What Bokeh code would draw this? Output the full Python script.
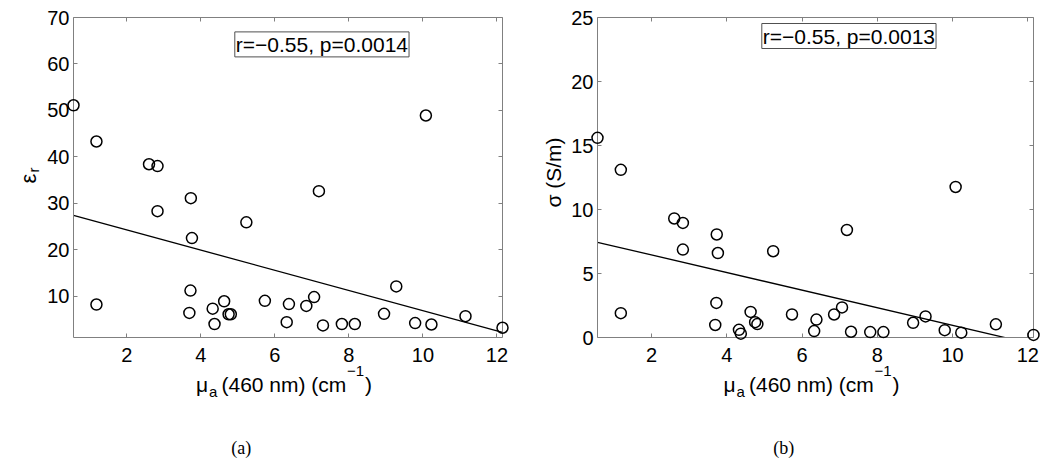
import numpy as np
from bokeh.plotting import figure
from bokeh.models import Label, LinearAxis, Range1d, FixedTicker
from bokeh.core.properties import value
from bokeh.layouts import row
from bokeh.embed import file_html
from bokeh.resources import INLINE

# ---------------- data ----------------
mu_a = [0.56, 1.18, 1.18, 2.60, 2.83, 2.83, 3.73, 3.76, 3.72, 3.69, 4.32,
        4.37, 4.63, 4.75, 4.81, 5.23, 5.73, 6.32, 6.38, 6.85, 7.06, 7.19,
        7.30, 7.81, 8.16, 8.95, 9.28, 9.79, 10.08, 10.23, 11.15, 12.15]
eps_r = [51.1, 43.3, 8.2, 38.4, 38.0, 28.3, 31.1, 22.5, 11.2, 6.4, 7.3,
         4.0, 8.9, 6.1, 6.1, 25.9, 9.0, 4.4, 8.3, 7.9, 9.8, 32.6,
         3.7, 4.0, 4.0, 6.2, 12.1, 4.2, 48.9, 3.9, 5.7, 3.2]
sigma = [15.6, 13.1, 1.9, 9.3, 8.95, 6.87, 8.05, 6.6, 2.7, 0.98, 0.6,
         0.3, 2.0, 1.2, 1.05, 6.74, 1.8, 0.5, 1.4, 1.8, 2.35, 8.4,
         0.45, 0.42, 0.42, 1.15, 1.65, 0.57, 11.76, 0.38, 1.03, 0.2]

# regression lines (values at the ends of the x range)
fit_x = [min(mu_a), max(mu_a)]
eps_fit = [27.4, 2.2]
sigma_fit = [7.44, -0.53]

x_ticks = [2, 4, 6, 8, 10, 12]
eps_ticks = [10, 20, 30, 40, 50, 60, 70]
sigma_ticks = [0, 5, 10, 15, 20, 25]
eps_range = (1.1, 70)
sigma_range = (0, 25)

stats_a = "r=\u22120.55, p=0.0014"
stats_b = "r=\u22120.55, p=0.0013"
captions = ["(a)", "(b)"]

# ---------------- styling ----------------
AX = "#808080"
FONT = "Liberation Sans"
H = 458


def style_axis(ax, ticks, show):
    ax.ticker = FixedTicker(ticks=ticks)
    ax.axis_line_color = AX
    ax.axis_line_width = 1
    ax.major_tick_line_color = AX
    ax.major_tick_in = 4
    ax.major_tick_out = 0
    ax.minor_tick_line_color = None
    ax.major_label_text_font = FONT
    if show:
        ax.major_label_text_color = "black"
        ax.major_label_text_font_size = "20px"
        ax.major_label_standoff = 10
    else:
        ax.major_label_text_color = None
        ax.major_label_text_font_size = "1px"
        ax.major_label_standoff = 0


def add_text(p, dx, dy, text, size, font=FONT, angle=0.0, align="left"):
    """Text placed dx px right / dy px up from the frame's bottom-left corner."""
    r = p.text(x=[p.x_range.start], y=[p.y_range.start], text=[text],
               x_offset=dx, y_offset=-dy, angle=angle,
               text_font=value(font), text_font_size=value(size),
               text_align=align, text_baseline="alphabetic", text_color="black")
    r.level = "overlay"
    return r


def panel(width, yvals, yfit, yrange, yticks, borders, frame_w, stats, stats_pos,
          caption, cap_x):
    bl, br, bt, bb = borders
    p = figure(width=width, height=H, output_backend="svg", toolbar_location=None,
               x_range=Range1d(min(mu_a), max(mu_a)), y_range=Range1d(*yrange),
               min_border_left=bl, min_border_right=br, min_border_top=bt,
               min_border_bottom=bb)
    p.grid.visible = False
    p.outline_line_color = None
    p.background_fill_color = "white"
    p.border_fill_color = "white"
    style_axis(p.xaxis[0], x_ticks, True)
    style_axis(p.yaxis[0], yticks, True)
    p.yaxis[0].major_label_standoff = 4
    top = LinearAxis()
    style_axis(top, x_ticks, False)
    p.add_layout(top, "above")
    right = LinearAxis()
    style_axis(right, yticks, False)
    p.add_layout(right, "right")

    p.line(fit_x, yfit, line_color="black", line_width=1.3)
    r = p.scatter(mu_a, yvals, marker="circle", size=11, fill_color=None,
                  line_color="black", line_width=1.5)
    r.level = "overlay"

    # stats box
    box = Label(x=stats_pos[0], y=stats_pos[1], x_units="screen", y_units="screen",
                text=stats, text_font=FONT, text_font_size="21px",
                text_align="left", text_baseline="top", text_color="black",
                border_line_color="#505050", border_line_width=1,
                background_fill_color="white", padding=1)
    p.add_layout(box)

    # x axis label: mu_a (460 nm) (cm^-1)
    x0 = frame_w / 2 - 92
    yb = -47
    pieces = [
        ("\u03bc", 0, yb, "21px"),
        ("a", 13, yb - 7, "15px"),
        ("(460 nm) (cm", 25.5, yb, "21px"),
        ("\u22121", 151, yb + 14, "15px"),
        (")", 169, yb, "21px"),
    ]
    for txt, dx, y, fs in pieces:
        add_text(p, x0 + dx, y, txt, fs)

    # caption
    add_text(p, cap_x, -110, caption, "18px", font="Liberation Serif", align="center")
    return p


p1 = panel(525, eps_r, eps_fit, eps_range, eps_ticks, (73, 23, 17, H - 337), 429,
           stats_a, (161.3, 305.6), captions[0], 167.8)
# y label eps_r (rotated)
add_text(p1, -45, 154, "\u03b5", "22px", angle=np.pi / 2)
add_text(p1, -40, 165, "r", "15px", angle=np.pi / 2)

p2 = panel(520, sigma, sigma_fit, sigma_range, sigma_ticks, (72, 12, 13, H - 337), 436,
           stats_b, (164.3, 314), captions[1], 186.3)
add_text(p2, -44, 165, "\u03c3 (S/m)", "21px", angle=np.pi / 2, align="center")

layout = row(p1, p2)
open("out.html", "w").write(file_html(layout, INLINE))
